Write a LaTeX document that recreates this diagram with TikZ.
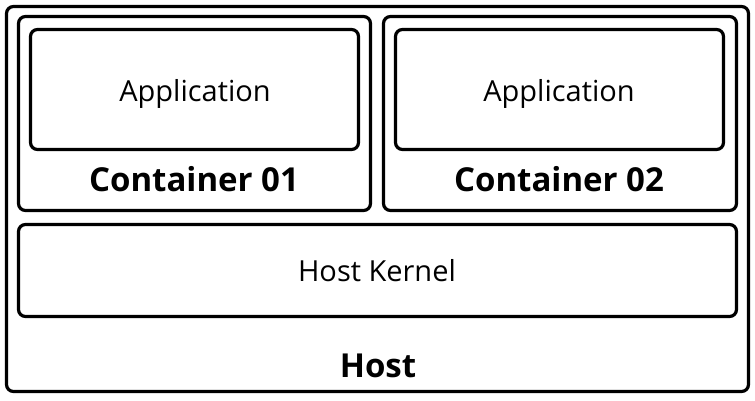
\documentclass[tikz,border=0pt]{standalone}
\usepackage{fontspec}
\setmainfont{Open Sans}
\usepackage{tikz}
\usetikzlibrary{positioning}

\tikzset{
	box/.style = {draw = black, line width = 3.2pt, rounded corners = 7pt},
	lbl/.style = {anchor = base, inner sep = 0pt, font = \fontsize{29}{32}\selectfont},
	blbl/.style = {lbl, font = \fontsize{33}{36}\selectfont\bfseries}
}

\begin{document}
\begin{tikzpicture}[x = 1pt, y = -1pt]
		\useasboundingbox (0, 0) rectangle (755, 401);
		\draw[box] (6.5, 6.5) rectangle (748.5, 391.5);
		\draw[box] (18.5, 16.5) rectangle (370.5, 210.5);
		\draw[box] (383.5, 16.5) rectangle (736.5, 210.5);
		\draw[box] (30.5, 29.5) rectangle (358.5, 149.5);
		\draw[box] (395.5, 29.5) rectangle (723.5, 149.5);
		\draw[box] (18.5, 224.5) rectangle (736.5, 316.5);
		\node[lbl] (app1) at (195, 101.5) {Application};
		\node[lbl] (app2) at (559, 101.5) {Application};
		\node[blbl] (cont1) at (194, 191) {Container 01};
		\node[blbl] (cont2) at (559, 191) {Container 02};
		\node[lbl] (kernel) at (377, 281) {Host Kernel};
		\node[blbl] (host) at (378, 377.5) {Host};
\end{tikzpicture}
\end{document}
